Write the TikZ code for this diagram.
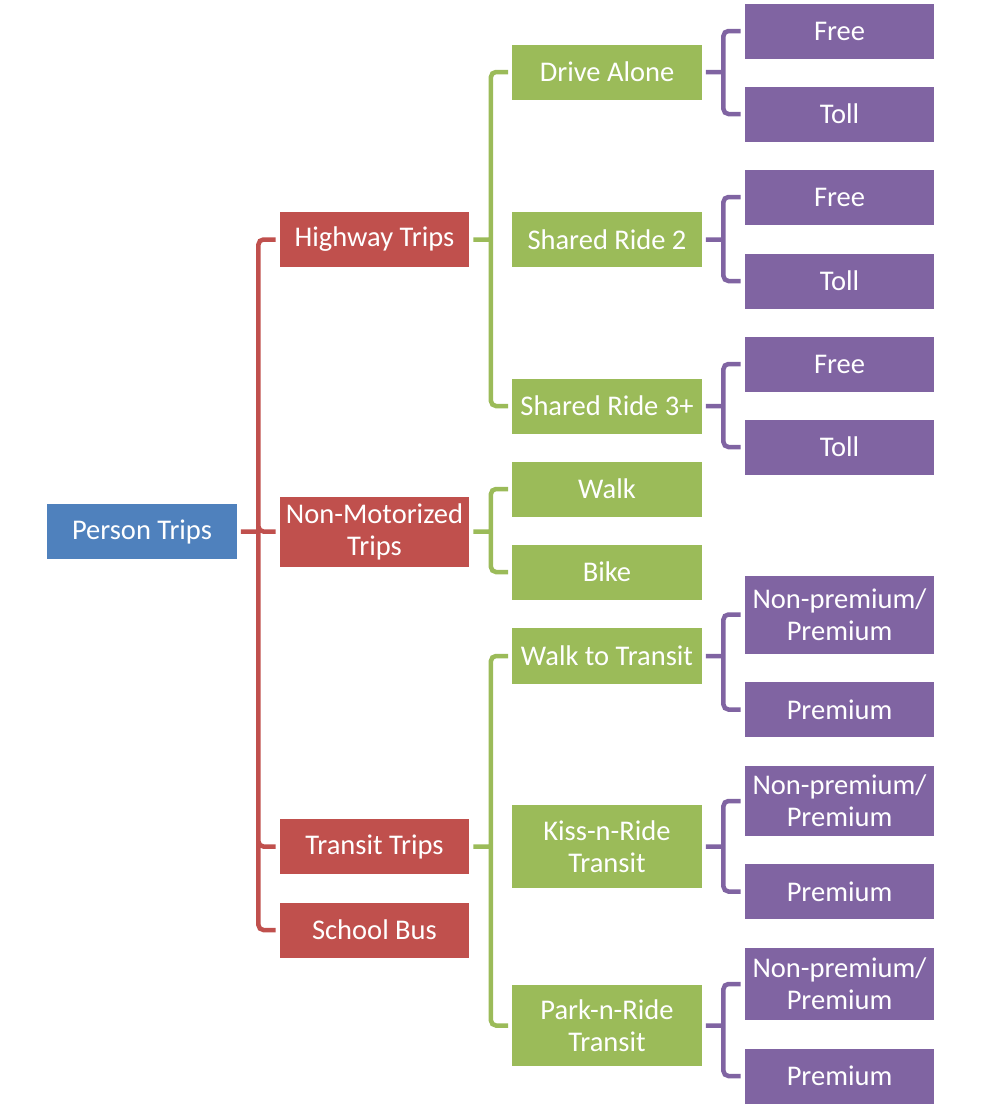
\documentclass[tikz,border=0pt]{standalone}
\usepackage{fontspec}
\setmainfont{Carlito}
\usepackage{tikz}
\definecolor{tripblue}{HTML}{4F81BD}
\definecolor{tripred}{HTML}{C0504D}
\definecolor{tripgreen}{HTML}{9BBB59}
\definecolor{trippurple}{HTML}{8064A2}

\begin{document}
\begin{tikzpicture}[x=1pt, y=-1pt,
    box/.style={fill=#1, text=white, inner sep=0pt, align=center,
      minimum width=189.5pt, minimum height=55pt, font=\fontsize{28.5}{32}\selectfont},
    link/.style={draw=#1, line width=4.5pt, rounded corners=5pt}]
    \useasboundingbox (0,0) rectangle (981,1111);

    % Root and first level
    \node[box=tripblue] (P) at (142,531.5) {Person Trips};
    \node[box=tripred] (H) at (374.5,239.5) {Highway Trips};
    \node[box=tripred, minimum height=70pt] (N) at (374.5,531.5) {Non-Motorized\\Trips};
    \node[box=tripred] (T) at (374.5,846.5) {Transit Trips};
    \node[box=tripred] (S) at (374.5,930) {School Bus};

    % Modes
    \node[box=tripgreen] (H1) at (607,72) {Drive Alone};
    \node[box=tripgreen] (H2) at (607,239.5) {Shared Ride 2};
    \node[box=tripgreen] (H3) at (607,406) {Shared Ride 3+};
    \node[box=tripgreen] (N1) at (607,489) {Walk};
    \node[box=tripgreen] (N2) at (607,572) {Bike};
    \node[box=tripgreen, minimum height=56pt] (T1) at (607,656) {Walk to Transit};
    \node[box=tripgreen, minimum height=83pt] (T2) at (607,846.5) {Kiss-n-Ride\\Transit};
    \node[box=tripgreen, minimum height=81pt] (T3) at (607,1025.5) {Park-n-Ride\\Transit};

    % Sub-modes
    \node[box=trippurple] (H1a) at (839.5,31) {Free};
    \node[box=trippurple] (H1b) at (839.5,114) {Toll};
    \node[box=trippurple] (H2a) at (839.5,197) {Free};
    \node[box=trippurple] (H2b) at (839.5,281) {Toll};
    \node[box=trippurple] (H3a) at (839.5,364) {Free};
    \node[box=trippurple] (H3b) at (839.5,447) {Toll};
    \node[box=trippurple, minimum height=78pt] (T1a) at (839.5,614.5) {Non-premium/\\Premium};
    \node[box=trippurple] (T1b) at (839.5,709.5) {Premium};
    \node[box=trippurple, minimum height=70pt] (T2a) at (839.5,801) {Non-premium/\\Premium};
    \node[box=trippurple] (T2b) at (839.5,891.5) {Premium};
    \node[box=trippurple, minimum height=72pt] (T3a) at (839.5,984) {Non-premium/\\Premium};
    \node[box=trippurple] (T3b) at (839.5,1076) {Premium};

    % Brackets
    \draw[link=tripred] ([xshift=4pt]P.east) -- ++(17.5,0) coordinate (Pj)
      (Pj) |- ([xshift=-4pt]H.west) (Pj) |- ([xshift=-4pt]N.west)
      (Pj) |- ([xshift=-4pt]T.west) (Pj) |- ([xshift=-4pt]S.west);
    \draw[link=tripgreen] ([xshift=4pt]H.east) -- ++(17.5,0) coordinate (Hj)
      (Hj) |- ([xshift=-4pt]H1.west) (Hj) |- ([xshift=-4pt]H3.west);
    \draw[link=tripgreen] ([xshift=4pt]N.east) -- ++(17.5,0) coordinate (Nj)
      (Nj) |- ([xshift=-4pt]N1.west) (Nj) |- ([xshift=-4pt]N2.west);
    \draw[link=tripgreen] ([xshift=4pt]T.east) -- ++(17.5,0) coordinate (Tj)
      (Tj) |- ([xshift=-4pt]T1.west) (Tj) |- ([xshift=-4pt]T3.west);
    \draw[link=trippurple] ([xshift=4pt]H1.east) -- ++(17.5,0) coordinate (H1j)
      (H1j) |- ([xshift=-4pt]H1a.west) (H1j) |- ([xshift=-4pt]H1b.west);
    \draw[link=trippurple] ([xshift=4pt]H2.east) -- ++(17.5,0) coordinate (H2j)
      (H2j) |- ([xshift=-4pt]H2a.west) (H2j) |- ([xshift=-4pt]H2b.west);
    \draw[link=trippurple] ([xshift=4pt]H3.east) -- ++(17.5,0) coordinate (H3j)
      (H3j) |- ([xshift=-4pt]H3a.west) (H3j) |- ([xshift=-4pt]H3b.west);
    \draw[link=trippurple] ([xshift=4pt]T1.east) -- ++(17.5,0) coordinate (T1j)
      (T1j) |- ([xshift=-4pt]T1a.west) (T1j) |- ([xshift=-4pt]T1b.west);
    \draw[link=trippurple] ([xshift=4pt]T2.east) -- ++(17.5,0) coordinate (T2j)
      (T2j) |- ([xshift=-4pt]T2a.west) (T2j) |- ([xshift=-4pt]T2b.west);
    \draw[link=trippurple] ([xshift=4pt]T3.east) -- ++(17.5,0) coordinate (T3j)
      (T3j) |- ([xshift=-4pt]T3a.west) (T3j) |- ([xshift=-4pt]T3b.west);
\end{tikzpicture}
\end{document}
